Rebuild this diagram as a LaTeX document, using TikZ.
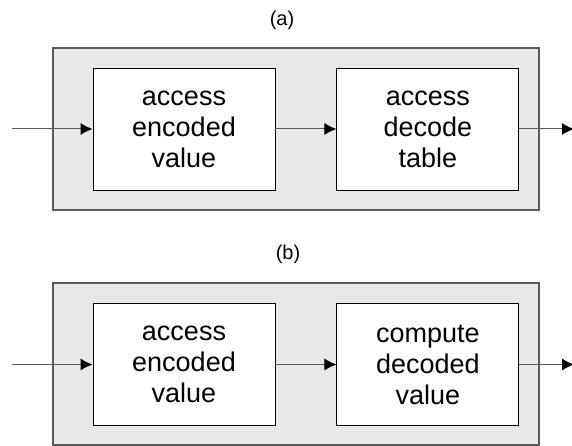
\documentclass[tikz,border=0pt]{standalone}
\usepackage{fontspec}
\setmainfont{Liberation Sans}
\usetikzlibrary{arrows.meta,positioning}
\definecolor{panelfill}{HTML}{E8E8E8}
\definecolor{edgegray}{HTML}{5A5A5A}

\begin{document}
\begin{tikzpicture}[x=1pt, y=-1pt, node distance=61pt,
    every node/.style={font=\fontsize{27}{31}\selectfont},
    stage/.style={draw, fill=white, line width=0.9pt, minimum width=182pt, minimum height=122pt, align=center, inner sep=0pt},
    panel/.style={draw=edgegray, fill=panelfill, line width=1.3pt, minimum width=486pt, minimum height=162pt, inner sep=0pt},
    flow/.style={draw=edgegray, line width=1pt, -{Latex[length=12pt, width=12pt, color=black]}},
    caption/.style={font=\fontsize{20}{24}\selectfont}]
    \useasboundingbox (0,0) rectangle (572,446);

    % (a): value lookup through a table
    \node[caption] (capa) at (282,20) {(a)};
    \node[panel] (panela) at (296,129) {};
    \node[stage] (encA) at (184,129) {access\\ encoded\\ value};
    \node[stage, right=of encA] (table) {access\\ decode\\ table};
    \coordinate (inA) at (12,129);
    \coordinate (outA) at (574,129);

    \draw[flow] (inA) -- (encA);
    \draw[flow] (encA) -- (table);
    \draw[flow] (table) -- (outA);

    % (b): value computed directly
    \node[caption] (capb) at (288,254) {(b)};
    \node[panel] (panelb) at (296,364) {};
    \node[stage] (encB) at (184,364.5) {access\\ encoded\\ value};
    \node[stage, right=of encB] (compute) {compute\\ decoded\\ value};
    \coordinate (inB) at (12,364.5);
    \coordinate (outB) at (574,364.5);

    \draw[flow] (inB) -- (encB);
    \draw[flow] (encB) -- (compute);
    \draw[flow] (compute) -- (outB);
\end{tikzpicture}
\end{document}
